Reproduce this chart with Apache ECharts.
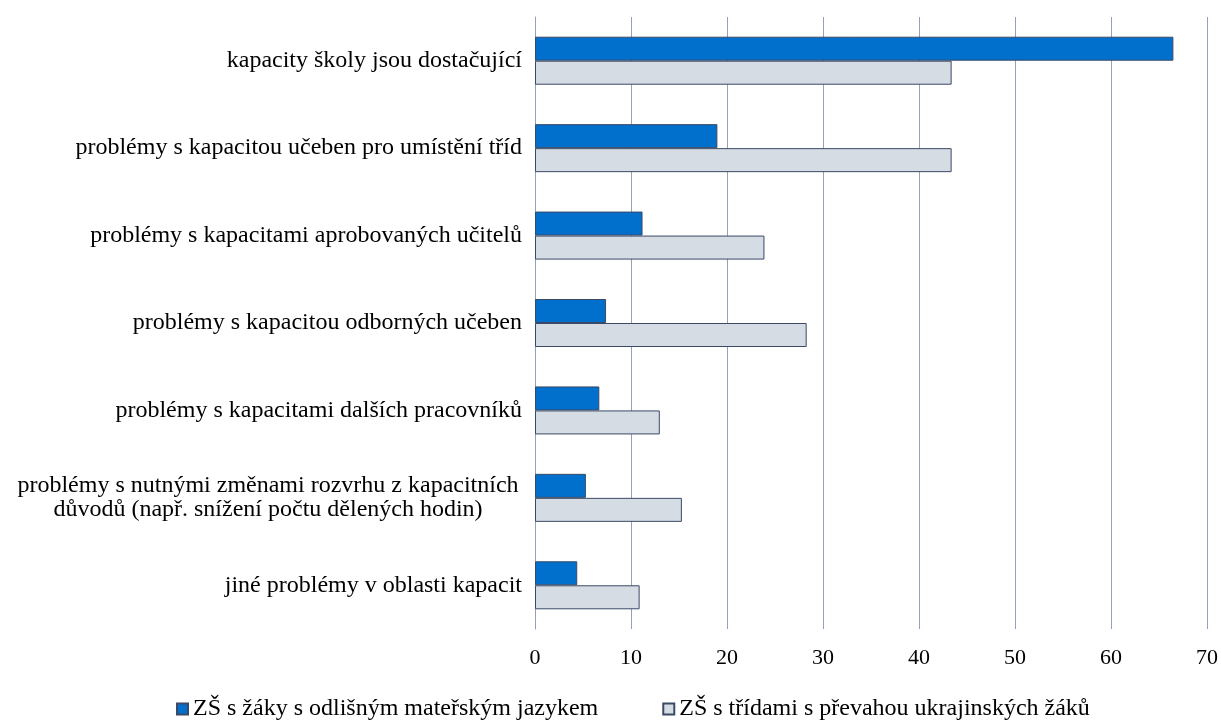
<!DOCTYPE html>
<html>
<head>
<meta charset="utf-8">
<script src="https://cdn.jsdelivr.net/npm/echarts@6/dist/echarts.min.js"></script>
<style>
  html, body { margin: 0; padding: 0; background: #fff; }
  #chart { width: 1221px; height: 720px; }
</style>
</head>
<body>
<div id="chart"></div>
<script>
// kategorie (shora dolů)
const categories = [
  'kapacity školy jsou dostačující',
  'problémy s kapacitou učeben pro umístění tříd',
  'problémy s kapacitami aprobovaných učitelů',
  'problémy s kapacitou odborných učeben',
  'problémy s kapacitami dalších pracovníků',
  'problémy s nutnými změnami rozvrhu z kapacitních\ndůvodů (např. snížení počtu dělených hodin)',
  'jiné problémy v oblasti kapacit'
]
const seriesNames = ['ZŠ s žáky s odlišným mateřským jazykem', 'ZŠ s třídami s převahou ukrajinských žáků']
const odlisnyJazyk = [66.5, 19.0, 11.2, 7.4, 6.7, 5.3, 4.4]
const ukrajinskiZaci = [43.4, 43.4, 23.9, 28.3, 13.0, 15.3, 10.9]
const xTicks = [0, 10, 20, 30, 40, 50, 60, 70]

const font = '"Liberation Serif", "Times New Roman", serif'
const chart = echarts.init(document.getElementById('chart'))

chart.setOption({
  animation: false,
  textStyle: { fontFamily: font, color: '#000' },
  grid: { left: 535, right: 13, top: 17, bottom: 91 },
  legend: {
    top: 692,
    left: 171,
    itemWidth: 11,
    itemHeight: 11,
    itemGap: 64,
    icon: 'rect',
    textStyle: { fontFamily: font, fontSize: 24, color: '#000' },
    data: seriesNames
  },
  xAxis: {
    type: 'value',
    min: xTicks[0],
    max: xTicks[xTicks.length - 1],
    interval: 10,
    axisLine: { show: false },
    axisTick: { show: false },
    splitLine: { lineStyle: { color: '#95a1b9', width: 1 } },
    axisLabel: { fontFamily: font, fontSize: 22, color: '#000', margin: 18 }
  },
  yAxis: {
    type: 'category',
    inverse: true,
    data: categories,
    axisLine: { show: true, lineStyle: { color: '#95a1b9' } },
    axisTick: { show: false },
    axisLabel: {
      fontFamily: font,
      fontSize: 24,
      color: '#000',
      margin: 13,
      lineHeight: 24,
      formatter: function (v) {
        if (v.indexOf('\n') < 0) return v
        return v.split('\n').map(s => '{c|' + s + '}').join('\n')
      },
      rich: {
        c: { width: 508, align: 'center', fontFamily: font, fontSize: 24, lineHeight: 24, color: '#000' }
      }
    }
  },
  series: [
    {
      name: seriesNames[0],
      type: 'bar',
      data: odlisnyJazyk,
      barWidth: 24,
      barGap: '0%',
      itemStyle: { color: '#0070cc', borderColor: '#3a4a66', borderWidth: 1 }
    },
    {
      name: seriesNames[1],
      type: 'bar',
      data: ukrajinskiZaci,
      barWidth: 24,
      barGap: '0%',
      itemStyle: { color: '#d6dce4', borderColor: '#3a4a66', borderWidth: 1 }
    }
  ]
})
</script>
</body>
</html>
